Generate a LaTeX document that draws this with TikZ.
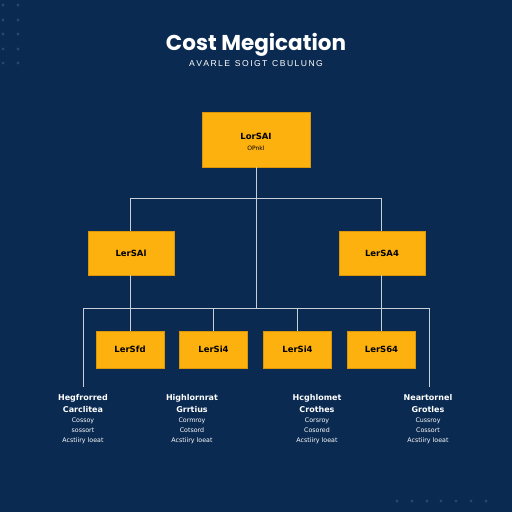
\documentclass[tikz,border=0pt]{standalone}
\usepackage{fontspec}
\setmainfont{Liberation Sans}
\newfontfamily\titlefont{Poppins}
\newfontfamily\dejavu{DejaVu Sans}
\definecolor{bgnavy}{HTML}{0B2A51}
\definecolor{boxfill}{HTML}{FDB10F}
\definecolor{boxedge}{HTML}{D9960A}
\definecolor{linegray}{HTML}{C9CFD8}
\definecolor{dotcol}{HTML}{28476F}
\newcommand{\hb}{\dejavu\bfseries\fontsize{8}{11}\selectfont}
\newcommand{\hr}{\dejavu\mdseries\fontsize{6.3}{10}\selectfont}
\begin{document}
\begin{tikzpicture}[x=1pt,y=-1pt,
  orgbox/.style={draw=boxedge,fill=boxfill,line width=0.6pt,inner sep=0pt,text=black,font=\dejavu\bfseries\fontsize{8.5}{10}\selectfont},
  conn/.style={draw=linegray,line width=0.9pt},
  lab/.style={text=white,align=center,anchor=north,inner sep=0pt},
  dotstyle/.style={fill=dotcol}]
\fill[bgnavy] (0,0) rectangle (512,512);
\useasboundingbox (0,0) rectangle (512,512);
% decorative dots
\foreach \xx in {3,18} \foreach \yy in {5,20,34,49,63} {\fill[dotstyle] (\xx,\yy) circle (1.6);}
\foreach \xx in {397,412,427,441,456,471,486} {\fill[dotstyle] (\xx,501) circle (1.6);}
% title
\node[text=white,font=\titlefont\bfseries\fontsize{21.5}{24}\selectfont] (title) at (256,45) {Cost Megication};
\node[text=white,font=\fontsize{8.6}{10}\selectfont] (subtitle) at (256,64) {A\,V\,A\,R\,L\,E\;\;S\,O\,I\,G\,T\;\;C\,B\,U\,L\,U\,N\,G};
% boxes
\node[orgbox,minimum width=108pt,minimum height=55pt,
  label={[yshift=-2pt,align=center,inner sep=0pt,text=black,font=\dejavu\bfseries\fontsize{8.5}{10}\selectfont]center:LorSAI\\[1pt]\dejavu\mdseries\fontsize{6}{7}\selectfont OPnkl}] (top) at (256,139.5) {};
\node[orgbox,minimum width=86pt,minimum height=44pt] (l2a) at (131,253) {LerSAl};
\node[orgbox,minimum width=86pt,minimum height=44pt] (l2b) at (382,253) {LerSA4};
\node[orgbox,minimum width=68pt,minimum height=37pt] (l3a) at (130,349.5) {LerSfd};
\node[orgbox,minimum width=68pt,minimum height=37pt] (l3b) at (213.5,349.5) {LerSi4};
\node[orgbox,minimum width=68pt,minimum height=37pt] (l3c) at (297.5,349.5) {LerSi4};
\node[orgbox,minimum width=68pt,minimum height=37pt] (l3d) at (381.5,349.5) {LerS64};
% labels
\node[lab] (lab1) at (83,394) {\hb Hegfrorred\\\hb Carclitea\\[-2pt]\hr Cossoy\\[-2pt]\hr sossort\\[-2pt]\hr Acstiiry loeat};
\node[lab] (lab2) at (192,394) {\hb Highlornrat\\\hb Grrtius\\[-2pt]\hr Cormroy\\[-2pt]\hr Cotsord\\[-2pt]\hr Acstiiry loeat};
\node[lab] (lab3) at (317,394) {\hb Hcghlomet\\\hb Crothes\\[-2pt]\hr Corsroy\\[-2pt]\hr Cosored\\[-2pt]\hr Acstiiry loeat};
\node[lab] (lab4) at (428,394) {\hb Neartornel\\\hb Grotles\\[-2pt]\hr Cussroy\\[-2pt]\hr Cossort\\[-2pt]\hr Acstiiry loeat};
% junctions
\coordinate (j1) at (256,198);
\coordinate (j1l) at (130,198);
\coordinate (j1r) at (381,198);
\coordinate (j2) at (256,308);
\coordinate (j2l) at (83,308);
\coordinate (j2r) at (429,308);
\coordinate (j2a) at (130,308);
\coordinate (j2b) at (213.5,308);
\coordinate (j2c) at (297.5,308);
\coordinate (j2d) at (381,308);
\coordinate (e1) at (83,387);
\coordinate (e4) at (429,387);
% connectors
\draw[conn] (top.south) -- (j2);
\draw[conn] (j1l) -- (j1r);
\draw[conn] (j1l) -- (l2a.north -| j1l);
\draw[conn] (j1r) -- (l2b.north -| j1r);
\draw[conn] (l2a.south -| j2a) -- (j2a);
\draw[conn] (l2b.south -| j2d) -- (j2d);
\draw[conn] (j2l) -- (j2r);
\draw[conn] (j2a) -- (l3a.north -| j2a);
\draw[conn] (j2b) -- (l3b.north);
\draw[conn] (j2c) -- (l3c.north);
\draw[conn] (j2d) -- (l3d.north -| j2d);
\draw[conn] (j2l) -- (e1);
\draw[conn] (j2r) -- (e4);
\end{tikzpicture}
\end{document}
